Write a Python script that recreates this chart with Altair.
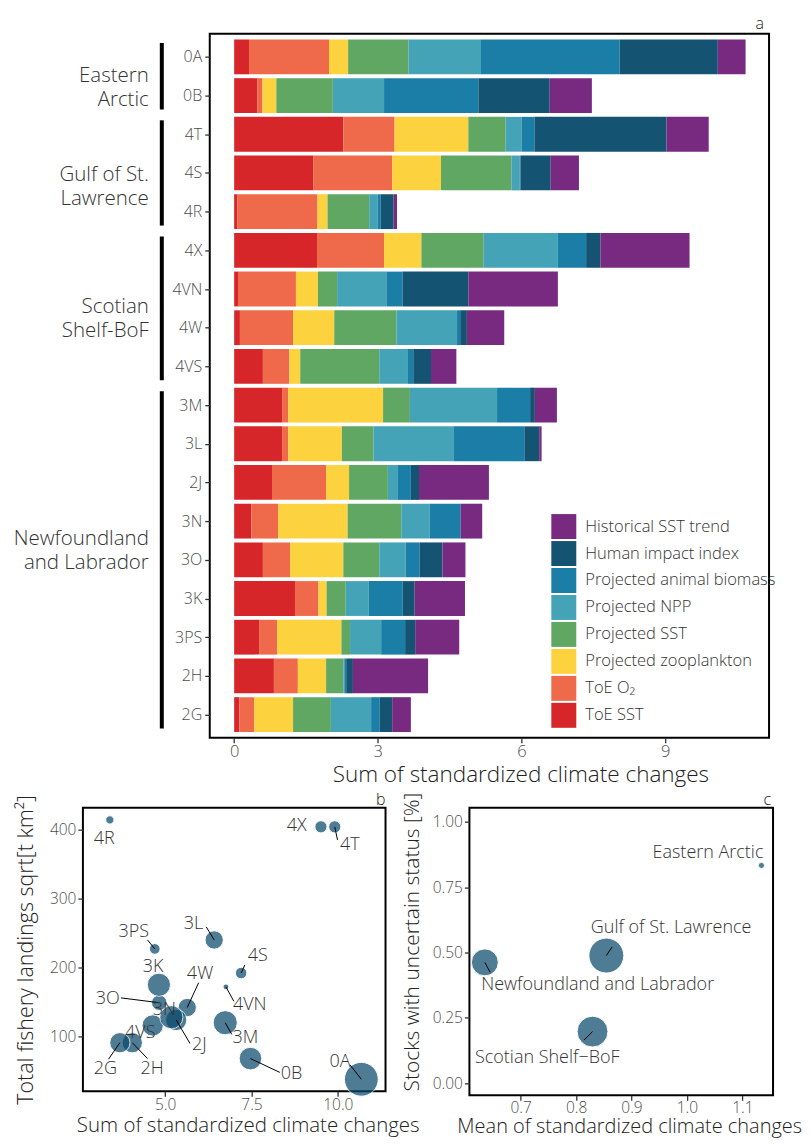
import json
import altair as alt
import pandas as pd

# ---------------- data ----------------
areas = ["0A", "0B", "4T", "4S", "4R", "4X", "4VN", "4W", "4VS",
         "3M", "3L", "2J", "3N", "3O", "3K", "3PS", "2H", "2G"]
area_region = (["Eastern Arctic"] * 2 + ["Gulf of St. Lawrence"] * 3 +
               ["Scotian Shelf-BoF"] * 4 + ["Newfoundland and Labrador"] * 9)
regions = ["Eastern Arctic", "Gulf of St. Lawrence", "Scotian Shelf-BoF", "Newfoundland and Labrador"]
region_text = ["Eastern\nArctic", "Gulf of St.\nLawrence", "Scotian\nShelf-BoF", "Newfoundland\nand Labrador"]

drivers = ["ToE SST", "ToE O\u2082", "Projected zooplankton", "Projected SST", "Projected NPP",
           "Projected animal biomass", "Human impact index", "Historical SST trend"]
toe_sst  = [0.31, 0.48, 2.28, 1.65, 0.07, 1.73, 0.08, 0.12, 0.60, 1.00, 1.00, 0.79, 0.36, 0.60, 1.27, 0.52, 0.83, 0.11]
toe_o2   = [1.67, 0.11, 1.07, 1.65, 1.67, 1.40, 1.21, 1.11, 0.55, 0.13, 0.13, 1.13, 0.56, 0.57, 0.49, 0.38, 0.50, 0.31]
proj_zoo = [0.40, 0.29, 1.54, 1.02, 0.21, 0.78, 0.46, 0.86, 0.23, 1.98, 1.12, 0.48, 1.45, 1.11, 0.17, 1.34, 0.59, 0.81]
proj_sst = [1.26, 1.18, 0.78, 1.47, 0.87, 1.30, 0.40, 1.30, 1.65, 0.56, 0.66, 0.81, 1.12, 0.75, 0.40, 0.18, 0.36, 0.79]
proj_npp = [1.50, 1.07, 0.33, 0.17, 0.18, 1.55, 1.04, 1.25, 0.60, 1.82, 1.68, 0.21, 0.59, 0.55, 0.48, 0.65, 0.02, 0.84]
proj_bio = [2.91, 1.97, 0.27, 0.02, 0.06, 0.59, 0.33, 0.08, 0.11, 0.69, 1.47, 0.27, 0.65, 0.29, 0.71, 0.50, 0.04, 0.18]
human    = [2.05, 1.49, 2.76, 0.63, 0.27, 0.30, 1.37, 0.14, 0.37, 0.10, 0.31, 0.17, 0.00, 0.48, 0.25, 0.21, 0.14, 0.26]
hist_sst = [0.58, 0.88, 0.88, 0.59, 0.07, 1.86, 1.87, 0.78, 0.53, 0.46, 0.05, 1.46, 0.45, 0.48, 1.05, 0.92, 1.57, 0.39]
driver_values = [toe_sst, toe_o2, proj_zoo, proj_sst, proj_npp, proj_bio, human, hist_sst]

# panel b
landings_sqrt = [38, 68, 404, 192, 414, 404, 172, 142, 116, 120, 240, 124, 128, 149, 175, 227, 91, 91]
area_weight = [30, 13.4, 3.9, 3.5, 1.8, 3.9, 0.9, 8.8, 11.9, 15.3, 8.8, 11.9, 14.1, 6.3, 14.1, 3.0, 10.8, 10.8]

# panel c
c_regions = ["Eastern Arctic", "Gulf of St. Lawrence", "Scotian Shelf\u2212BoF", "Newfoundland and Labrador"]
uncertain_share = [0.833, 0.488, 0.197, 0.462]
region_weight = [1, 32, 25, 19]

panel_letters = ["a", "b", "c"]

# ---------------- styling / annotation placement ----------------
FONT = "Open Sans"
legend_order = list(reversed(drivers))
legend_colors = ["#772A7F", "#155372", "#1A7EA6", "#44A3B7", "#5FA762", "#FDD23F", "#EE6A4A", "#D7262A"]
POINT_COLOR = "#0b4a6b"
NOFRAME = alt.ViewBackground(stroke="white", strokeOpacity=0, strokeWidth=0)
LABEL_W = 127
region_label_y = [0.5, 3.05, 6.46, 12.47]

b_label_pos = {"4R": (3.24, 387), "4X": (8.81, 405), "4T": (10.35, 377), "3PS": (4.09, 252),
               "3L": (5.82, 263), "4S": (7.68, 216), "4VN": (7.45, 146), "3K": (4.65, 201),
               "3O": (3.34, 155), "3N": (4.98, 138), "4W": (6.01, 190), "2J": (5.99, 87),
               "3M": (7.32, 98), "0B": (8.66, 45), "0A": (10.06, 63), "2G": (3.27, 53),
               "2H": (4.62, 53), "4VS": (4.28, 105)}
b_seg_end = {"4T": (9.99, 385), "3PS": (4.49, 240), "3L": (6.19, 259), "4S": (7.31, 204),
             "4VN": (6.99, 151), "3O": (3.72, 156), "4W": (5.97, 178), "2J": (5.72, 90),
             "3M": (6.93, 103), "0B": (8.32, 48), "0A": (10.35, 59), "2G": (3.36, 67),
             "2H": (4.49, 68)}
c_label_pos = {"Eastern Arctic": (1.038, 0.88), "Gulf of St. Lawrence": (0.9715, 0.594),
               "Newfoundland and Labrador": (0.839, 0.376), "Scotian Shelf\u2212BoF": (0.748, 0.096)}
c_seg_end = {"Gulf of St. Lawrence": (0.865, 0.521), "Newfoundland and Labrador": (0.645, 0.424),
             "Scotian Shelf\u2212BoF": (0.814, 0.164)}

# ---------------- tables ----------------
rows = []
for i, a in enumerate(areas):
    for k, d in enumerate(drivers):
        rows.append({"area": a, "idx": i, "driver": d, "order": k, "value": driver_values[k][i]})
df_a = pd.DataFrame(rows)

totals = [sum(v[i] for v in driver_values) for i in range(len(areas))]

reg_rows = []
for r, txt, ly in zip(regions, region_text, region_label_y):
    ids = [i for i, rr in enumerate(area_region) if rr == r]
    reg_rows.append({"region": r, "txt": txt, "ly": ly, "first": min(ids), "last": max(ids)})
df_reg = pd.DataFrame(reg_rows)

df_b = pd.DataFrame({"area": areas, "total": totals, "landings": landings_sqrt, "weight": area_weight})
df_b_lab = pd.DataFrame([{"area": a, "lx": b_label_pos[a][0], "ly": b_label_pos[a][1]} for a in areas])
df_b_seg = df_b[df_b["area"].isin(list(b_seg_end))].copy()
df_b_seg["sx"] = [b_seg_end[a][0] for a in df_b_seg["area"]]
df_b_seg["sy"] = [b_seg_end[a][1] for a in df_b_seg["area"]]

region_mean = []
for r in regions:
    ids = [i for i, rr in enumerate(area_region) if rr == r]
    region_mean.append(sum(totals[i] for i in ids) / (len(ids) * len(drivers)))
df_c = pd.DataFrame({"region": c_regions, "mean": region_mean, "share": uncertain_share, "weight": region_weight})
df_c_lab = pd.DataFrame([{"region": r, "lx": c_label_pos[r][0], "ly": c_label_pos[r][1]} for r in c_regions])
df_c_seg = df_c[df_c["region"].isin(list(c_seg_end))].copy()
df_c_seg["sx"] = [c_seg_end[r][0] for r in df_c_seg["region"]]
df_c_seg["sy"] = [c_seg_end[r][1] for r in df_c_seg["region"]]


def letter(ch, xpix, ypix):
    return alt.Chart(pd.DataFrame({"t": [ch]})).mark_text(
        align="right", baseline="alphabetic", fontSize=16, color="#222", font=FONT, fontWeight=300
    ).encode(text="t:N", x=alt.value(xpix), y=alt.value(ypix))


# ---------------- panel a ----------------
xa = alt.Scale(domain=[-0.51, 11.17], nice=False, zero=False)
ya = alt.Scale(domain=[-0.6, 17.6], reverse=True, nice=False, zero=False)

bars = alt.Chart(df_a).transform_window(
    cum="sum(value)", groupby=["area"], sort=[alt.SortField("order")], frame=[None, 0]
).transform_calculate(
    x0="datum.cum - datum.value", y0="datum.idx - 0.45", y1="datum.idx + 0.45"
).mark_rect().encode(
    x=alt.X("x0:Q", scale=xa, axis=alt.Axis(values=[0, 3, 6, 9], format="d", labelFontSize=16.5,
            labelPadding=1, title="Sum of standardized climate changes", titleFontSize=22.5,
            titlePadding=3, titleX=311)),
    x2="cum:Q",
    y=alt.Y("y0:Q", scale=ya, axis=alt.Axis(values=list(range(len(areas))),
            labelExpr=json.dumps(areas) + "[datum.value]", labelFontSize=16, labelPadding=3, title=None)),
    y2="y1:Q",
    color=alt.Color("driver:N", scale=alt.Scale(domain=legend_order, range=legend_colors),
                    legend=alt.Legend(title=None, orient="none", legendX=342 + LABEL_W, legendY=481,
                                      symbolType="square", symbolSize=625, symbolStrokeWidth=0,
                                      symbolOpacity=1, labelFontSize=16.5, labelColor="#333",
                                      labelFont=FONT, labelFontWeight=300, rowPadding=2,
                                      labelOffset=9, padding=0, labelLimit=300)),
)
panel_a = alt.layer(bars, letter(panel_letters[0], 555, -5)).properties(width=560, height=705)

# region labels: own narrow panel to the left of panel a, same y scale
reg_text = alt.Chart(df_reg).mark_text(align="right", baseline="middle", fontSize=20.5, lineHeight=24,
                                       color="#333", lineBreak="\n", font=FONT, fontWeight=300).encode(
    x=alt.value(66), y=alt.Y("ly:Q", scale=ya, axis=None), text="txt:N")
reg_rule = alt.Chart(df_reg).transform_calculate(
    r0="datum.first - 0.36", r1="datum.last + 0.36"
).mark_rule(strokeWidth=4, color="black").encode(
    x=alt.value(79), y=alt.Y("r0:Q", scale=ya, axis=None), y2="r1:Q")
labels_a = alt.layer(reg_rule, reg_text).properties(width=LABEL_W, height=705, view=NOFRAME)

top = alt.hconcat(labels_a, panel_a, spacing=0, bounds="flush")

# ---------------- panel b ----------------
xb = alt.Scale(domain=[2.62, 11.38], nice=False, zero=False)
yb = alt.Scale(domain=[20.5, 431.7], nice=False, zero=False)

pts_b = alt.Chart(df_b).mark_circle(color=POINT_COLOR, opacity=0.72, stroke="white", strokeWidth=1).encode(
    x=alt.X("total:Q", scale=xb, axis=alt.Axis(values=[5, 7.5, 10], format=".1f", labelFontSize=15.5,
            labelPadding=1, title="Sum of standardized climate changes", titleFontSize=20.5,
            titlePadding=3, titleX=165)),
    y=alt.Y("landings:Q", scale=yb, axis=alt.Axis(values=[100, 200, 300, 400], labelFontSize=15.5,
            labelPadding=2, title="Total fishery landings sqrt[t km\u00b2]", titleFontSize=21.5,
            titlePadding=12)),
    size=alt.Size("weight:Q", scale=alt.Scale(domain=[0, 30], range=[0, 1225]), legend=None),
)
seg_b = alt.Chart(df_b_seg).mark_rule(color="black", strokeWidth=1).encode(
    x=alt.X("total:Q", scale=xb), y=alt.Y("landings:Q", scale=yb), x2="sx:Q", y2="sy:Q")
lab_b = alt.Chart(df_b_lab).mark_text(fontSize=18, color="#333", font=FONT, fontWeight=300,
                                      baseline="middle").encode(
    x=alt.X("lx:Q", scale=xb), y=alt.Y("ly:Q", scale=yb), text="area:N")
panel_b = alt.layer(pts_b, seg_b, lab_b, letter(panel_letters[1], 303, -3)).properties(width=303, height=284)

# ---------------- panel c ----------------
xc = alt.Scale(domain=[0.6076, 1.1553], nice=False, zero=False)
yc = alt.Scale(domain=[-0.047, 1.054], nice=False, zero=False)

pts_c = alt.Chart(df_c).mark_circle(color=POINT_COLOR, opacity=0.72, stroke="white", strokeWidth=1).encode(
    x=alt.X("mean:Q", scale=xc, axis=alt.Axis(values=[0.7, 0.8, 0.9, 1.0, 1.1], format=".1f",
            labelFontSize=15.5, labelPadding=0, title="Mean of standardized climate changes",
            titleFontSize=20, titlePadding=1, titleX=160)),
    y=alt.Y("share:Q", scale=yc, axis=alt.Axis(values=[0, 0.25, 0.5, 0.75, 1.0], format=".2f",
            labelFontSize=15.5, labelPadding=2, title="Stocks with uncertain status [%]",
            titleFontSize=21, titlePadding=10, titleY=134)),
    size=alt.Size("weight:Q", scale=alt.Scale(domain=[0, 32], range=[0, 1156]), legend=None),
)
seg_c = alt.Chart(df_c_seg).mark_rule(color="black", strokeWidth=1).encode(
    x=alt.X("mean:Q", scale=xc), y=alt.Y("share:Q", scale=yc), x2="sx:Q", y2="sy:Q")
lab_c = alt.Chart(df_c_lab).mark_text(fontSize=18, color="#333", font=FONT, fontWeight=300,
                                      baseline="middle").encode(
    x=alt.X("lx:Q", scale=xc), y=alt.Y("ly:Q", scale=yc), text="region:N")
panel_c = alt.layer(pts_c, seg_c, lab_c, letter(panel_letters[2], 302, -3)).properties(width=304, height=288)

bottom = alt.hconcat(panel_b, panel_c, spacing=84, bounds="flush")

chart = alt.vconcat(top, bottom, spacing=4).properties(
    padding={"left": 5, "top": 6, "right": 0, "bottom": 0}
).configure_view(stroke="black", strokeWidth=2).configure_axis(
    labelFont=FONT, titleFont=FONT, labelFontWeight=300, titleFontWeight=300,
    labelColor="#4d4d4d", titleColor="#222", tickColor="#333", tickSize=5, tickWidth=1.3,
    domain=False, grid=False
).configure_text(font=FONT)

chart.save("out.html", embed_options={"renderer": "svg", "actions": False})
